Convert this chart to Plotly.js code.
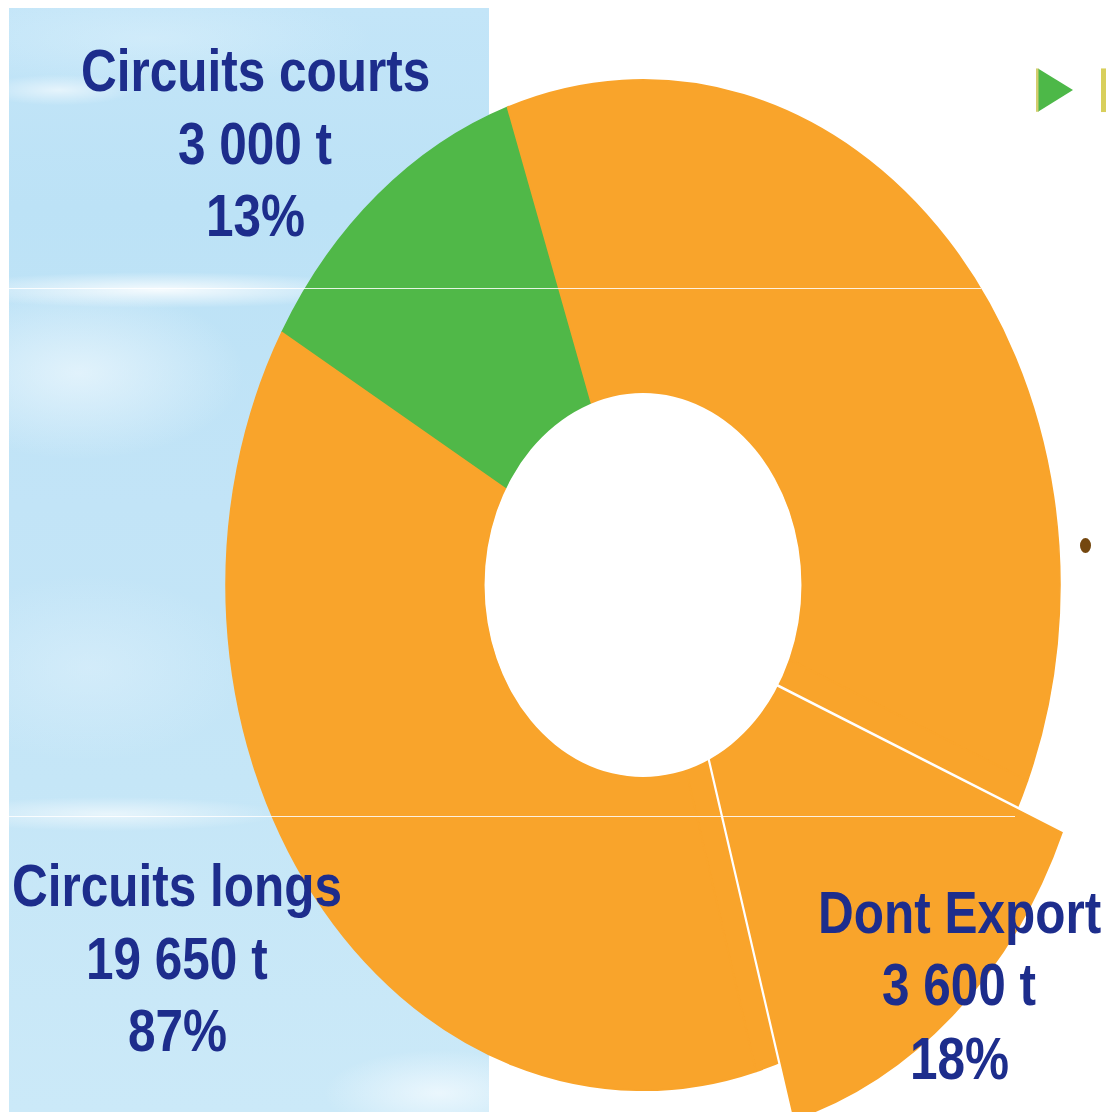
<!DOCTYPE html>
<html>
<head>
<meta charset="utf-8">
<script src="https://cdn.plot.ly/plotly-3.0.1.min.js"></script>
<style>
  html, body { margin:0; padding:0; width:1106px; height:1112px; overflow:hidden; background:#ffffff; }
  #panel {
    position:absolute; left:9px; top:8px; width:480px; height:1104px;
    background:
      radial-gradient(ellipse 110px 22px at 50px 82px, rgba(255,255,255,0.6), rgba(255,255,255,0) 70%),
      radial-gradient(ellipse 320px 70px at 140px 30px, rgba(222,242,252,0.5), rgba(255,255,255,0) 70%),
      radial-gradient(ellipse 300px 24px at 150px 282px, rgba(255,255,255,0.85), rgba(255,255,255,0) 75%),
      radial-gradient(ellipse 230px 120px at 70px 365px, rgba(236,247,253,0.75), rgba(255,255,255,0) 72%),
      radial-gradient(ellipse 220px 130px at 80px 660px, rgba(225,242,252,0.5), rgba(255,255,255,0) 72%),
      radial-gradient(ellipse 240px 24px at 100px 806px, rgba(255,255,255,0.6), rgba(255,255,255,0) 72%),
      radial-gradient(ellipse 160px 60px at 430px 1085px, rgba(245,251,255,0.75), rgba(255,255,255,0) 72%),
      linear-gradient(180deg, #c3e5f8 0%, #bce2f6 18%, #c2e4f7 45%, #c5e6f7 70%, #cbe9f8 100%);
  }
  #plot { position:absolute; left:0; top:0; width:1160px; height:960px; transform:scaleY(1.2113); transform-origin:0 0; }
  .scan { position:absolute; height:1px; background:rgba(255,255,255,0.85); }
</style>
</head>
<body>
<div id="panel"></div>
<div id="plot"></div>
<div class="scan" style="left:9px; top:288px; width:972px;"></div>
<div class="scan" style="left:9px; top:816px; width:1006px;"></div>
<script>
// ---- data (slice shares, in % of the ring) ----
const sliceLabels = ['Circuits courts', 'Circuits longs', 'Dont Export', 'Circuits longs (suite)'];
const sliceShares = [11.4, 36.6, 14.3, 37.7];
const sliceColors = ['#50b848', '#f9a42b', '#f9a42b', '#f9a42b'];

const groupNames    = ['Circuits courts', 'Circuits longs', 'Dont Export'];
const groupTonnes   = [3000, 19650, 3600];
const groupPercents = [13, 87, 18];

// ---- geometry (unstretched plot pixels) ----
const W = 1160, H = 960;
const cx = 643, cy = 483, R = 417, holeFrac = 0.38, pullFrac = 0.134;
const px = x => x / W;
const py = y => (H - y) / H;

const fmtT = n => String(n).replace(/\B(?=(\d{3})+(?!\d))/g, ' ') + ' t';

const domA = { x: [px(cx - R), px(cx + R)], y: [py(cy + R), py(cy - R)] };
const RB = R * (1 + pullFrac);
const domB = { x: [px(cx - RB), px(cx + RB)], y: [py(cy + RB), py(cy - RB)] };

const exportIdx = sliceLabels.indexOf('Dont Export');

const traceA = {
  type: 'pie', labels: sliceLabels, values: sliceShares, sort: false,
  direction: 'clockwise', rotation: -60, hole: holeFrac,
  marker: { colors: sliceColors, line: { color: sliceColors, width: 1.5 } },
  textinfo: 'none', hoverinfo: 'skip', domain: domA, showlegend: false
};
const traceB = {
  type: 'pie', labels: sliceLabels, values: sliceShares, sort: false,
  direction: 'clockwise', rotation: -60, hole: 0,
  pull: sliceLabels.map((l, i) => i === exportIdx ? pullFrac : 0),
  marker: {
    colors: sliceColors.map((c, i) => i === exportIdx ? c : 'rgba(0,0,0,0)'),
    line: { color: '#ffffff', width: sliceLabels.map((l, i) => i === exportIdx ? 2.2 : 0) }
  },
  textinfo: 'none', hoverinfo: 'skip', domain: domB, showlegend: false
};

// label blocks: centre x and first baseline (unstretched), line pitch
const blockX = [255, 177, 959];
const blockBase = [75.1, 748, 770.3];
const pitch = 60.2;
const fontSize = 49.5;
const navy = '#1d2d8c';
const annotations = [];
groupNames.forEach((name, g) => {
  const lines = [name, fmtT(groupTonnes[g]), groupPercents[g] + '%'];
  lines.forEach((t, k) => {
    const base = blockBase[g] + k * pitch;
    annotations.push({
      xref: 'paper', yref: 'paper', x: px(blockX[g]), y: py(base - 0.355 * fontSize),
      xanchor: 'center', yanchor: 'middle', showarrow: false,
      text: '<b>' + t + '</b>',
      font: { family: 'Liberation Sans, Arial, sans-serif', size: fontSize, color: navy }
    });
  });
});

const shapes = [
  { type: 'circle', xref: 'paper', yref: 'paper', layer: 'above',
    x0: px(cx - R * holeFrac), x1: px(cx + R * holeFrac),
    y0: py(cy + R * holeFrac), y1: py(cy - R * holeFrac),
    fillcolor: '#ffffff', line: { width: 0 } },
  { type: 'path', xref: 'paper', yref: 'paper', layer: 'above',
    path: 'M ' + px(1038) + ' ' + py(56.5) + ' L ' + px(1073) + ' ' + py(74.3) + ' L ' + px(1038) + ' ' + py(92.3) + ' Z',
    fillcolor: '#4db848', line: { width: 0 } },
  { type: 'rect', xref: 'paper', yref: 'paper', layer: 'above',
    x0: px(1036), x1: px(1038.5), y0: py(92.3), y1: py(56.5),
    fillcolor: '#d3cd6e', line: { width: 0 } },
  { type: 'rect', xref: 'paper', yref: 'paper', layer: 'above',
    x0: px(1101), x1: px(1108), y0: py(92.5), y1: py(56.5),
    fillcolor: '#d8cf5c', line: { width: 0 } },
  { type: 'circle', xref: 'paper', yref: 'paper', layer: 'above',
    x0: px(1080), x1: px(1091), y0: py(456.5), y1: py(444.2),
    fillcolor: '#74470f', line: { width: 0 } }
];

const layout = {
  width: W, height: H,
  margin: { l: 0, r: 0, t: 0, b: 0, pad: 0 },
  paper_bgcolor: 'rgba(0,0,0,0)', plot_bgcolor: 'rgba(0,0,0,0)',
  showlegend: false,
  annotations: annotations,
  shapes: shapes
};

Plotly.newPlot('plot', [traceA, traceB], layout, { displayModeBar: false, staticPlot: true });
</script>
</body>
</html>
